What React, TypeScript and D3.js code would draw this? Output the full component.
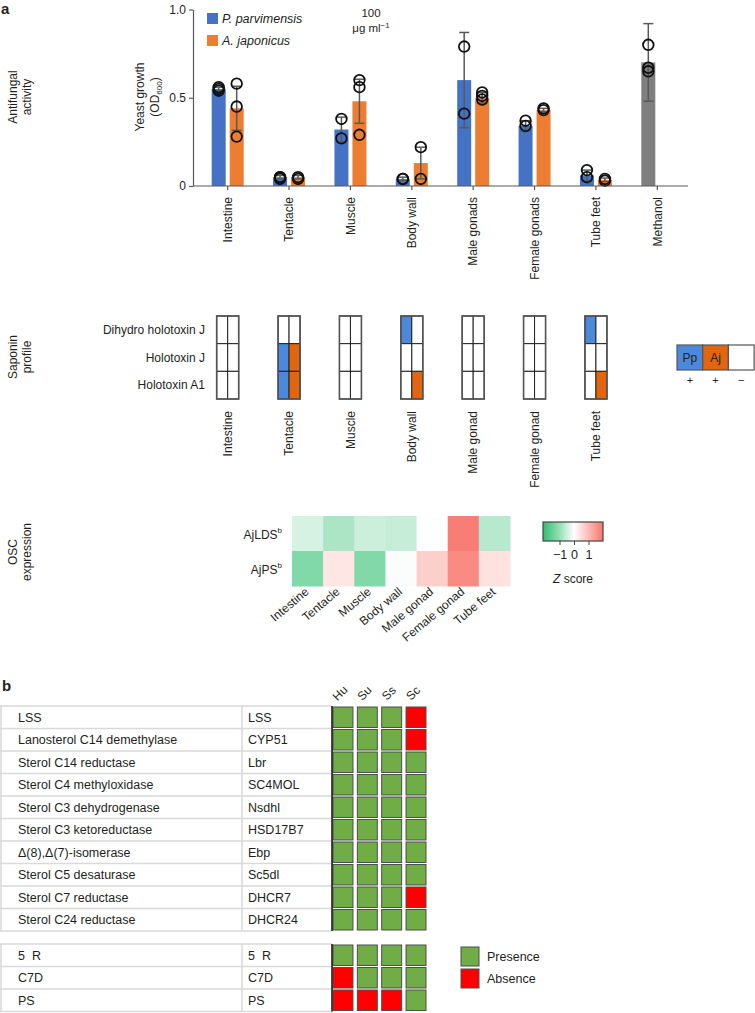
import React, { useEffect, useRef } from 'react';
import * as d3 from 'd3';

// ---- panel a: antifungal activity ----
const tissues = ['Intestine', 'Tentacle', 'Muscle', 'Body wall', 'Male gonads', 'Female gonads', 'Tube feet', 'Methanol'];
const ppMean = [0.55, 0.05, 0.32, 0.04, 0.6, 0.34, 0.06, 0.7];
const ppErr = [0.01, 0.01, 0.07, 0.01, 0.27, 0.03, 0.03, 0.22];
const ppPoints = [
  [0.56, 0.55, 0.54], [0.05, 0.05, 0.04], [0.38, 0.27], [0.04, 0.04],
  [0.79, 0.41], [0.37, 0.34], [0.09, 0.05], [0.8, 0.67, 0.65],
];
const ajMean = [0.44, 0.05, 0.48, 0.13, 0.5, 0.43, 0.035, null];
const ajErr = [0.125, 0.01, 0.125, 0.09, 0.03, 0.01, 0.01, null];
const ajPoints = [
  [0.58, 0.45, 0.28], [0.05, 0.04], [0.6, 0.56, 0.29], [0.22, 0.04],
  [0.53, 0.51, 0.49], [0.44, 0.43], [0.04, 0.03], [],
];
const yTicks = [0, 0.5, 1.0];

// ---- saponin profile ----
const sapTissues = ['Intestine', 'Tentacle', 'Muscle', 'Body wall', 'Male gonad', 'Female gonad', 'Tube feet'];
const saponins = ['Dihydro holotoxin J', 'Holotoxin J', 'Holotoxin A1'];
const sapPp = [[0, 0, 0], [0, 1, 1], [0, 0, 0], [1, 0, 0], [0, 0, 0], [0, 0, 0], [1, 0, 0]];
const sapAj = [[0, 0, 0], [0, 1, 1], [0, 0, 0], [0, 0, 1], [0, 0, 0], [0, 0, 0], [0, 0, 1]];

// ---- OSC expression (z score) ----
const oscGenes = ['AjLDS', 'AjPS'];
const oscZ = [
  [-0.4, -0.8, -0.5, -0.55, -0.02, 1.9, -0.7],
  [-1.2, 0.36, -1.2, -0.05, 0.7, 1.7, 0.42],
];
const zTicks = [-1, 0, 1];

// ---- panel b ----
const species = ['Hu', 'Su', 'Ss', 'Sc'];
const enzymes = [
  'LSS', 'Lanosterol C14 demethylase', 'Sterol C14 reductase', 'Sterol C4 methyloxidase',
  'Sterol C3 dehydrogenase', 'Sterol C3 ketoreductase', 'Δ(8),Δ(7)-isomerase',
  'Sterol C5 desaturase', 'Sterol C7 reductase', 'Sterol C24 reductase',
];
const genes = ['LSS', 'CYP51', 'Lbr', 'SC4MOL', 'Nsdhl', 'HSD17B7', 'Ebp', 'Sc5dl', 'DHCR7', 'DHCR24'];
const presence = [
  [1, 1, 1, 0], [1, 1, 1, 0], [1, 1, 1, 1], [1, 1, 1, 1], [1, 1, 1, 1],
  [1, 1, 1, 1], [1, 1, 1, 1], [1, 1, 1, 1], [1, 1, 1, 0], [1, 1, 1, 1],
];
const extraEnzymes = ['5\u00a0\u00a0R', 'C7D', 'PS'];
const extraGenes = ['5\u00a0\u00a0R', 'C7D', 'PS'];
const extraPresence = [[1, 1, 1, 1], [0, 1, 1, 1], [0, 0, 0, 1]];

const FONT = "'Liberation Sans', Arial, Helvetica, sans-serif";
const INK = '#231f20';
const BLUE = '#4472c4';
const ORANGE = '#ed7d31';
const GREY = '#7f7f7f';

const App: React.FC = () => {
  const svgRef = useRef<SVGSVGElement>(null);

  useEffect(() => {
    if (!svgRef.current) return;
    const svg = d3.select(svgRef.current);
    svg.selectAll('*').remove();
    svg.attr('font-family', FONT).attr('fill', INK);

    // panel letters
    svg.append('text').attr('x', 1).attr('y', 14).attr('font-size', 15).attr('font-weight', 'bold').text('a');
    svg.append('text').attr('x', 2).attr('y', 691).attr('font-size', 15).attr('font-weight', 'bold').text('b');

    const sideLabel = (lines: string[], cy: number) => {
      lines.forEach((l, i) =>
        svg.append('text')
          .attr('transform', `translate(${16.5 + i * 14},${cy}) rotate(-90)`)
          .attr('text-anchor', 'middle')
          .attr('font-size', 12)
          .text(l));
    };
    sideLabel(['Antifungal', 'activity'], 97);
    sideLabel(['Saponin', 'profile'], 357);
    sideLabel(['OSC', 'expression'], 552);

    // ---------- bar chart ----------
    const x = d3.scaleBand().domain(tissues).range([197, 688]);
    const y = d3.scaleLinear().domain([0, 1]).range([186, 9.5]);
    const cx = (t: string) => x(t)! + x.bandwidth() / 2;

    const bars = svg.append('g');
    tissues.forEach((t, i) => {
      const c = cx(t);
      const isMeth = t === 'Methanol';
      bars.append('rect')
        .attr('x', c - 16).attr('width', 14)
        .attr('y', y(ppMean[i])).attr('height', y(0) - y(ppMean[i]))
        .attr('fill', isMeth ? GREY : BLUE);
      const a = ajMean[i];
      if (a !== null) {
        bars.append('rect')
          .attr('x', c + 2).attr('width', 14)
          .attr('y', y(a)).attr('height', y(0) - y(a))
          .attr('fill', ORANGE);
      }
    });

    const err = svg.append('g').attr('stroke', '#595959').attr('stroke-width', 1.5);
    const drawErr = (px: number, m: number, e: number) => {
      err.append('line').attr('x1', px).attr('x2', px).attr('y1', y(m - e)).attr('y2', y(m + e));
      [m - e, m + e].forEach(v =>
        err.append('line').attr('x1', px - 5).attr('x2', px + 5).attr('y1', y(v)).attr('y2', y(v)));
    };
    tissues.forEach((t, i) => {
      const c = cx(t);
      drawErr(c - 9, ppMean[i], ppErr[i]);
      const a = ajMean[i];
      const ae = ajErr[i];
      if (a !== null && ae !== null) drawErr(c + 9, a, ae);
    });

    const pts = svg.append('g').attr('fill', 'none').attr('stroke', '#111').attr('stroke-width', 1.8);
    tissues.forEach((t, i) => {
      const c = cx(t);
      ppPoints[i].forEach(v => pts.append('circle').attr('cx', c - 9).attr('cy', y(v)).attr('r', 5.3));
      ajPoints[i].forEach(v => pts.append('circle').attr('cx', c + 9).attr('cy', y(v)).attr('r', 5.3));
    });

    // y axis
    svg.append('g')
      .attr('transform', 'translate(193,0)')
      .call(d3.axisLeft(y).tickValues(yTicks).tickSize(4).tickSizeOuter(0).tickPadding(3)
        .tickFormat(d => (+d === 0 ? '0' : d3.format('.1f')(+d))))
      .call(g => g.selectAll('line,path').attr('stroke', '#595959').attr('stroke-width', 1.2))
      .call(g => g.selectAll('text').attr('font-size', 12).attr('fill', INK).attr('font-family', FONT));

    // x axis
    svg.append('g')
      .attr('transform', 'translate(0,186)')
      .call(d3.axisBottom(x).tickSize(4).tickSizeOuter(0))
      .call(g => g.select('.domain').remove())
      .call(g => g.selectAll('line').attr('stroke', '#595959').attr('stroke-width', 1.2))
      .call(g => g.selectAll('text')
        .attr('font-size', 12).attr('fill', INK).attr('font-family', FONT)
        .attr('transform', 'rotate(-90)')
        .attr('text-anchor', 'end')
        .attr('x', -11).attr('y', 0).attr('dy', '0.35em'));
    svg.append('line').attr('x1', 193).attr('x2', 688).attr('y1', 186).attr('y2', 186)
      .attr('stroke', '#595959').attr('stroke-width', 1.2);

    // y label
    const yl = svg.append('g').attr('transform', 'translate(0,97)');
    yl.append('text').attr('transform', 'translate(144,0) rotate(-90)').attr('text-anchor', 'middle')
      .attr('font-size', 12).text('Yeast growth');
    const od = yl.append('text').attr('transform', 'translate(159,0) rotate(-90)').attr('text-anchor', 'middle')
      .attr('font-size', 12);
    od.append('tspan').text('(OD');
    od.append('tspan').attr('font-size', 8).attr('dy', 3).text('600');
    od.append('tspan').attr('dy', -3).text(')');

    // legend
    [['P. parvimensis', BLUE], ['A. japonicus', ORANGE]].forEach(([lab, col], i) => {
      svg.append('rect').attr('x', 207).attr('y', 13 + i * 22).attr('width', 11).attr('height', 11).attr('fill', col);
      svg.append('text').attr('x', 222).attr('y', 23 + i * 22).attr('font-size', 12.5)
        .attr('font-style', 'italic').text(lab);
    });
    svg.append('text').attr('x', 371).attr('y', 17).attr('text-anchor', 'middle').attr('font-size', 11.5).text('100');
    const unit = svg.append('text').attr('x', 371).attr('y', 32).attr('text-anchor', 'middle').attr('font-size', 11.5);
    unit.append('tspan').text('μg ml');
    unit.append('tspan').attr('font-size', 8).attr('dy', -4).text('−1');

    // ---------- saponin profile ----------
    const sx = d3.scaleBand().domain(sapTissues).range([197, 197 + 7 * x.step()]);
    const sy = d3.scaleBand().domain(saponins).range([316, 399]);
    const sap = svg.append('g');
    sapTissues.forEach((t, ti) => {
      const c = sx(t)! + sx.bandwidth() / 2;
      saponins.forEach((s, si) => {
        sap.append('rect').attr('x', c - 11).attr('y', sy(s)!).attr('width', 11).attr('height', sy.bandwidth())
          .attr('fill', sapPp[ti][si] ? '#4a89dc' : '#fff').attr('stroke', '#222').attr('stroke-width', 1);
        sap.append('rect').attr('x', c).attr('y', sy(s)!).attr('width', 11).attr('height', sy.bandwidth())
          .attr('fill', sapAj[ti][si] ? '#e2650f' : '#fff').attr('stroke', '#222').attr('stroke-width', 1);
      });
      sap.append('rect').attr('x', c - 11).attr('y', 316).attr('width', 22).attr('height', 83)
        .attr('fill', 'none').attr('stroke', '#555').attr('stroke-width', 1.6);
      sap.append('text')
        .attr('transform', `translate(${c},411) rotate(-90)`)
        .attr('text-anchor', 'end').attr('dy', '0.35em').attr('font-size', 12).text(t);
    });
    saponins.forEach(s => {
      sap.append('text').attr('x', 205).attr('y', sy(s)! + sy.bandwidth() / 2).attr('dy', '0.35em')
        .attr('text-anchor', 'end').attr('font-size', 12).text(s);
    });
    // saponin legend
    [['Pp', '#4a89dc', '+'], ['Aj', '#e2650f', '+'], ['', '#fff', '−']].forEach(([lab, col, sign], i) => {
      const lx = 677 + i * 25.7;
      sap.append('rect').attr('x', lx).attr('y', 345).attr('width', 25.7).attr('height', 25)
        .attr('fill', col).attr('stroke', '#555').attr('stroke-width', 1.2);
      if (lab) sap.append('text').attr('x', lx + 12.85).attr('y', 362).attr('text-anchor', 'middle')
        .attr('font-size', 12).text(lab);
      sap.append('text').attr('x', lx + 12.85).attr('y', 384).attr('text-anchor', 'middle')
        .attr('font-size', 11).text(sign);
    });

    // ---------- OSC heatmap ----------
    const hx = d3.scaleBand().domain(sapTissues).range([292, 510]);
    const hy = d3.scaleBand().domain(oscGenes).range([516, 586]);
    const zColor = d3.scaleLinear<string>().domain([-2, 0, 2]).range(['#2dbf6f', '#ffffff', '#f8766d']);
    const heat = svg.append('g');
    oscGenes.forEach((gname, gi) => {
      sapTissues.forEach((t, ti) => {
        heat.append('rect').attr('x', hx(t)!).attr('y', hy(gname)!)
          .attr('width', hx.bandwidth() + 0.5).attr('height', hy.bandwidth() + 0.5)
          .attr('fill', zColor(oscZ[gi][ti]));
      });
      const lab = heat.append('text').attr('x', 282).attr('y', hy(gname)! + hy.bandwidth() / 2 + 5)
        .attr('text-anchor', 'end').attr('font-size', 12);
      lab.append('tspan').text(gname);
      lab.append('tspan').attr('font-size', 8).attr('dy', -6).text('b');
    });
    sapTissues.forEach(t => {
      heat.append('text')
        .attr('transform', `translate(${hx(t)! + hx.bandwidth() / 2 + 2},593) rotate(-40)`)
        .attr('text-anchor', 'end').attr('font-size', 12).text(t);
    });

    // colour bar
    const cb = d3.scaleLinear().domain([-2.14, 2.0]).range([543, 603]);
    const grad = svg.append('defs').append('linearGradient').attr('id', 'zgrad');
    [-2.14, -1, 0, 1, 2].forEach(v => {
      grad.append('stop').attr('offset', `${((v + 2.14) / 4.14) * 100}%`).attr('stop-color', zColor(Math.max(-2, v)));
    });
    svg.append('rect').attr('x', 543).attr('y', 522).attr('width', 60).attr('height', 19)
      .attr('fill', 'url(#zgrad)').attr('stroke', '#444').attr('stroke-width', 1.2);
    svg.append('g')
      .attr('transform', 'translate(0,541)')
      .call(d3.axisBottom(cb).tickValues(zTicks).tickSize(4).tickSizeOuter(0).tickPadding(5)
        .tickFormat(d => (+d < 0 ? `−${Math.abs(+d)}` : `${d}`)))
      .call(g => g.select('.domain').remove())
      .call(g => g.selectAll('line').attr('stroke', '#444'))
      .call(g => g.selectAll('text').attr('font-size', 12.5).attr('fill', INK).attr('font-family', FONT));
    const zl = svg.append('text').attr('x', 573).attr('y', 583).attr('text-anchor', 'middle').attr('font-size', 12);
    zl.append('tspan').attr('font-style', 'italic').text('Z');
    zl.append('tspan').text(' score');

    // ---------- panel b ----------
    const spx = d3.scaleBand().domain(species).range([333, 426]).paddingInner(0.18);
    const drawTable = (names: string[], gns: string[], pres: number[][], top: number) => {
      const ry = d3.scaleBand().domain(names).range([top, top + names.length * 22.5]);
      const g = svg.append('g');
      names.forEach((n, i) => {
        const yy = ry(n)!;
        g.append('text').attr('x', 18).attr('y', yy + 15.5).attr('font-size', 12.5).text(n);
        g.append('text').attr('x', 248).attr('y', yy + 15.5).attr('font-size', 12.5).text(gns[i]);
        species.forEach((s, si) => {
          g.append('rect').attr('x', spx(s)!).attr('y', yy + 1).attr('width', spx.bandwidth()).attr('height', 20.5)
            .attr('fill', pres[i][si] ? '#70ad47' : '#ff0000').attr('stroke', '#4d4d4d').attr('stroke-width', 1);
        });
      });
      const bottom = top + names.length * 22.5;
      d3.range(names.length + 1).forEach(k => {
        g.append('line').attr('x1', 0).attr('x2', 332).attr('y1', top + k * 22.5).attr('y2', top + k * 22.5)
          .attr('stroke', '#d9d9d9').attr('stroke-width', 1.5);
      });
      [1, 242].forEach(vx => g.append('line').attr('x1', vx).attr('x2', vx).attr('y1', top).attr('y2', bottom)
        .attr('stroke', '#d9d9d9').attr('stroke-width', 1.5));
      g.append('line').attr('x1', 332).attr('x2', 332).attr('y1', top).attr('y2', bottom)
        .attr('stroke', '#111').attr('stroke-width', 1.5);
    };
    drawTable(enzymes, genes, presence, 706);
    drawTable(extraEnzymes, extraGenes, extraPresence, 944);

    species.forEach(s => {
      svg.append('text')
        .attr('transform', `translate(${spx(s)! + spx.bandwidth() / 2},696) rotate(-45)`)
        .attr('text-anchor', 'middle').attr('font-size', 12).text(s);
    });

    // presence legend
    [['Presence', '#70ad47'], ['Absence', '#ff0000']].forEach(([lab, col], i) => {
      svg.append('rect').attr('x', 461).attr('y', 947 + i * 22).attr('width', 18).attr('height', 19)
        .attr('fill', col).attr('stroke', '#4d4d4d').attr('stroke-width', 1);
      svg.append('text').attr('x', 487).attr('y', 961 + i * 22).attr('font-size', 12.5).text(lab);
    });
  }, []);

  return (
    <div style={{ position: 'absolute', left: 0, top: 0 }}>
      <svg ref={svgRef} width={755} height={1013} style={{ display: 'block', background: '#fff' }}></svg>
    </div>
  );
};

export default App;
